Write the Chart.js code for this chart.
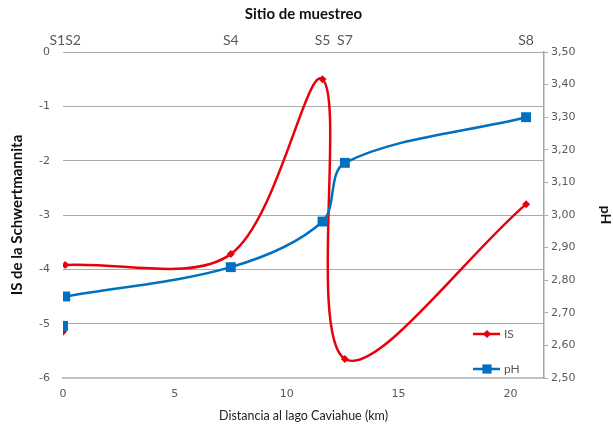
<!DOCTYPE html>
<html>
<head>
<meta charset="utf-8">
<script src="https://cdn.jsdelivr.net/npm/chart.js@4.4.1/dist/chart.umd.min.js"></script>
<style>
  html, body { margin: 0; padding: 0; background: #fff; }
  #wrap { width: 613px; height: 427px; }
</style>
</head>
<body>
<div id="wrap"><canvas id="grafico" width="613" height="427"></canvas></div>
<script>
// Datos
const sitios = ['S1', 'S2', 'S4', 'S5', 'S7', 'S8'];
const distanciaKm = [0, 0.1, 7.5, 11.6, 12.6, 20.7];
const indiceSaturacion = [-5.15, -3.92, -3.72, -0.5, -5.65, -2.8];
const valoresPh = [2.66, 2.75, 2.84, 2.98, 3.16, 3.30];

const rojo = '#e8000b';
const azul = '#0070c0';
const gris = '#595959';

// S1 y S2 casi coinciden: se muestran juntos como "S1S2"
const etiquetasSitio = sitios.map((s, i) => {
  if (i < sitios.length - 1 && distanciaKm[i + 1] - distanciaKm[i] < 0.5) return '';
  if (i > 0 && distanciaKm[i] - distanciaKm[i - 1] < 0.5) return sitios[i - 1] + s;
  return s;
});

// S1 queda como punto suelto: se corta la línea entre S1 y S2 con un hueco (null)
const puntos = (valores) => {
  const out = [];
  valores.forEach((v, i) => {
    out.push({ x: distanciaKm[i], y: v });
    if (i === 0) out.push({ x: (distanciaKm[0] + distanciaKm[1]) / 2, y: null });
  });
  return out;
};

// Leyenda dentro del área del gráfico (abajo a la derecha)
const leyendaInterna = {
  id: 'leyendaInterna',
  afterDatasetsDraw(chart) {
    const { ctx, chartArea } = chart;
    const x = chartArea.right - 71;
    chart.data.datasets.forEach((ds, i) => {
      const y = chartArea.bottom - 44 + i * 35;
      ctx.save();
      ctx.strokeStyle = ds.borderColor;
      ctx.lineWidth = 2.5;
      ctx.beginPath();
      ctx.moveTo(x, y);
      ctx.lineTo(x + 27, y);
      ctx.stroke();
      ctx.fillStyle = ds.backgroundColor;
      Chart.helpers.drawPoint(ctx, {
        pointStyle: ds.pointStyle,
        radius: ds.pointStyle === 'rect' ? 6.5 : 4,
        rotation: 0,
        borderWidth: 0,
      }, x + 14, y);
      ctx.fillStyle = gris;
      ctx.font = '12px Lato';
      ctx.textBaseline = 'middle';
      ctx.fillText(ds.label, x + 31, y);
      ctx.restore();
    });
  },
};

const tickFont = { family: 'DejaVu Sans', size: 11 };

new Chart(document.getElementById('grafico'), {
  type: 'line',
  data: {
    datasets: [
      {
        label: 'IS',
        data: puntos(indiceSaturacion),
        yAxisID: 'yIS',
        borderColor: rojo,
        backgroundColor: rojo,
        borderWidth: 2.5,
        pointStyle: 'rectRot',
        pointRadius: 4,
        pointBorderWidth: 0,
        tension: 0.33,
        spanGaps: false,
        order: 1,
      },
      {
        label: 'pH',
        data: puntos(valoresPh),
        yAxisID: 'yPh',
        borderColor: azul,
        backgroundColor: azul,
        borderWidth: 2.5,
        pointStyle: 'rect',
        pointRadius: 7,
        pointBorderWidth: 0,
        tension: 0.33,
        spanGaps: false,
        order: 0,
      },
    ],
  },
  options: {
    responsive: false,
    animation: false,
    layout: { padding: 0 },
    plugins: { legend: { display: false }, tooltip: { enabled: false } },
    scales: {
      x: {
        type: 'linear',
        position: 'bottom',
        min: 0,
        max: 21.5,
        afterBuildTicks: s => { s.ticks = [0, 5, 10, 15, 20].map(v => ({ value: v })); },
        ticks: { color: gris, font: tickFont, padding: 10, maxRotation: 0 },
        grid: { drawOnChartArea: false, drawTicks: false },
        border: { color: '#c0c0c0', width: 2 },
        title: {
          display: true,
          text: 'Distancia al lago Caviahue (km)',
          color: '#222',
          font: { family: 'Lato', size: 12.5 },
          padding: { top: 0, bottom: 3.5 },
        },
        afterFit: s => { s.height = 49; },
      },
      xSitio: {
        type: 'linear',
        position: 'top',
        min: 0,
        max: 21.5,
        afterBuildTicks: s => { s.ticks = distanciaKm.map(v => ({ value: v })); },
        ticks: {
          color: gris,
          font: { family: 'Lato', size: 14 },
          padding: 3,
          autoSkip: false,
          maxRotation: 0,
          callback: (v, i) => etiquetasSitio[i],
        },
        grid: { drawOnChartArea: false, drawTicks: false },
        border: { display: false },
        title: {
          display: true,
          text: 'Sitio de muestreo',
          color: '#111',
          font: { family: 'Lato', size: 15, weight: 'bold' },
          padding: { top: 5.5, bottom: 0 },
        },
        afterFit: s => { s.height = 52; },
      },
      yIS: {
        position: 'left',
        min: -6,
        max: 0,
        ticks: { stepSize: 1, color: gris, font: tickFont, padding: 13, callback: v => String(v) },
        grid: { color: '#ababab', lineWidth: 1, drawTicks: false },
        border: { display: false },
        title: {
          display: true,
          text: 'IS de la Schwertmannita',
          color: '#111',
          font: { family: 'Lato', size: 15, weight: 'bold' },
          padding: { top: 8, bottom: 0 },
        },
        afterFit: s => { s.width = 63; },
      },
      yPh: {
        position: 'right',
        min: 2.5,
        max: 3.5,
        ticks: {
          stepSize: 0.1,
          color: gris,
          font: tickFont,
          padding: 3,
          callback: v => v.toFixed(2).replace('.', ','),
        },
        grid: { drawOnChartArea: false, drawTicks: true, tickLength: 4, color: '#a6a6a6' },
        border: { color: '#a6a6a6', width: 1.5 },
        title: {
          display: true,
          text: 'pH',
          color: '#111',
          font: { family: 'Lato', size: 14, weight: 'bold', lineHeight: 1 },
          padding: { top: 0, bottom: 0 },
        },
        afterFit: s => { s.width = 69; },
      },
    },
  },
  plugins: [leyendaInterna],
});
</script>
</body>
</html>
